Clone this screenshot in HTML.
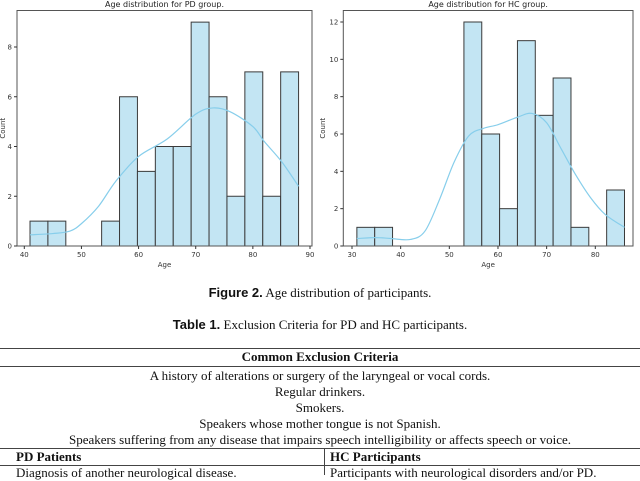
<!DOCTYPE html>
<html><head><meta charset="utf-8"><style>
body{margin:0;width:640px;height:475px;background:#fff;overflow:hidden;position:relative;font-family:"Liberation Serif",serif}
svg{position:absolute;left:0;top:0}
.cap{position:absolute;left:0;width:640px;text-align:center;font-size:13px;color:#111}
.cap b{font-family:"Liberation Sans",sans-serif}
.ln{position:absolute;left:0;width:640px;border-top:1px solid #444}
.row{position:absolute;left:0;width:640px;text-align:center;font-size:13px;color:#111;line-height:16px}
</style></head><body>
<svg id="chart" width="640" height="280"></svg>
<div class="cap" style="top:285px"><b>Figure 2.</b> Age distribution of participants.</div>
<div class="cap" style="top:317px"><b>Table 1.</b> Exclusion Criteria for PD and HC participants.</div>
<div class="ln" style="top:348px;border-top-width:1.5px"></div>
<div class="row" style="top:349px;font-weight:bold">Common Exclusion Criteria</div>
<div class="ln" style="top:366px"></div>
<div class="row" style="top:368px">A history of alterations or surgery of the laryngeal or vocal cords.</div>
<div class="row" style="top:384px">Regular drinkers.</div>
<div class="row" style="top:400px">Smokers.</div>
<div class="row" style="top:416px">Speakers whose mother tongue is not Spanish.</div>
<div class="row" style="top:432px">Speakers suffering from any disease that impairs speech intelligibility or affects speech or voice.</div>
<div class="ln" style="top:448px"></div>
<div class="row" style="top:449px;text-align:left;left:16px;font-weight:bold">PD Patients</div>
<div class="row" style="top:449px;text-align:left;left:330px;font-weight:bold">HC Participants</div>
<div class="ln" style="top:465px"></div>
<div style="position:absolute;left:324px;top:448px;height:27px;border-left:1px solid #444"></div>
<div class="row" style="top:465px;text-align:left;left:16px">Diagnosis of another neurological disease.</div>
<div class="row" style="top:465px;text-align:left;left:330px">Participants with neurological disorders and/or PD.</div>
<script>
const pdCounts=[1,1,0,0,1,6,3,4,4,9,6,2,7,2,7];
const pdBinStart=41, pdBinEnd=88;
const pdKdeX=[41,45,48,50,53,56,60,65,70,73,76,80,82,85,88];
const pdKdeY=[0.45,0.5,0.6,0.9,1.6,2.6,3.6,4.3,5.3,5.55,5.4,4.8,4.2,3.4,2.4];
const pdXTicks=[40,50,60,70,80,90];
const pdYTicks=[0,2,4,6,8];
const hcCounts=[1,1,0,0,0,0,12,6,2,11,7,9,1,0,3];
const hcBinStart=31, hcBinEnd=86;
const hcKdeX=[31,35,38,42,45,48,51,54,57,60,64,67,70,73,76,79,82,86];
const hcKdeY=[0.4,0.45,0.4,0.35,0.8,2.5,4.5,5.9,6.3,6.5,6.9,7.1,6.6,5.2,3.8,2.6,1.7,1.0];
const hcXTicks=[30,40,50,60,70,80];
const hcYTicks=[0,2,4,6,8,10,12];
const NS='http://www.w3.org/2000/svg';
const svg=document.getElementById('chart');
function el(t,a,txt){const e=document.createElementNS(NS,t);for(const k in a)e.setAttribute(k,a[k]);if(txt!=null)e.textContent=txt;svg.appendChild(e);return e;}
function panel(o){
  const x=v=>o.x0+(v-o.xv0)*(o.x1-o.x0)/(o.xv1-o.xv0);
  const y=v=>o.yb-(v-0)*(o.yb-o.yt)/(o.yv1);
  const n=o.counts.length,w=(o.be-o.bs)/n;
  o.counts.forEach((c,i)=>{
    if(!c)return;
    const r=el('rect',{x:x(o.bs+i*w),y:y(c),width:x(o.bs+(i+1)*w)-x(o.bs+i*w),height:y(0)-y(c),fill:'#c3e5f3',stroke:'#3a3a3a','stroke-width':1});
    
    
  });
  let d='';
  for(let i=0;i<o.kx.length;i++){
    const px=x(o.kx[i]),py=y(o.ky[i]);
    if(i==0)d+='M'+px+','+py;
    else{const p0=[x(o.kx[Math.max(i-2,0)]),y(o.ky[Math.max(i-2,0)])],p1=[x(o.kx[i-1]),y(o.ky[i-1])],p3=[x(o.kx[Math.min(i+1,o.kx.length-1)]),y(o.ky[Math.min(i+1,o.kx.length-1)])];
      d+=' C'+(p1[0]+(px-p0[0])/6)+','+(p1[1]+(py-p0[1])/6)+' '+(px-(p3[0]-p1[0])/6)+','+(py-(p3[1]-p1[1])/6)+' '+px+','+py;}
  }
  const k=el('path',{d:d,fill:'none',stroke:'#87ceeb','stroke-width':1.2});
  
  
  const f=el('rect',{x:o.px0,y:o.yt2,width:o.px1-o.px0,height:o.yb-o.yt2,fill:'none',stroke:'#555','stroke-width':1});
  
  
  o.xt.forEach(v=>{el('line',{x1:x(v),x2:x(v),y1:o.yb,y2:o.yb+3,stroke:'#333'});
    const t=el('text',{x:x(v),y:o.yb+11,'font-size':7,'text-anchor':'middle','font-family':'DejaVu Sans,sans-serif',fill:'#333'},v);
    
    });
  o.yticks.forEach(v=>{el('line',{x1:o.px0-3,x2:o.px0,y1:y(v),y2:y(v),stroke:'#333'});
    const t=el('text',{x:o.px0-5,y:y(v)+2.5,'font-size':7,'text-anchor':'end','font-family':'DejaVu Sans,sans-serif',fill:'#333'},v);
    
    });
  const xl=el('text',{x:(o.px0+o.px1)/2,y:o.yb+21,'font-size':7,'text-anchor':'middle','font-family':'DejaVu Sans,sans-serif',fill:'#333'},'Age');
  
  
  const yl=el('text',{x:0,y:0,'font-size':7,'text-anchor':'middle','font-family':'DejaVu Sans,sans-serif',fill:'#333',transform:'translate('+o.ylx+','+((o.yb+o.yt2)/2)+') rotate(-90)'},'Count');
  
  
  const tt=el('text',{x:(o.px0+o.px1)/2,y:7,'font-size':8,'text-anchor':'middle','font-family':'DejaVu Sans,sans-serif',fill:'#222'},o.title);
  
  
}
panel({id:'pd',counts:pdCounts,bs:pdBinStart,be:pdBinEnd,kx:pdKdeX,ky:pdKdeY,xt:pdXTicks,yticks:pdYTicks,
  x0:24.3,x1:310,xv0:40,xv1:90,yb:246,yt:47,yv1:8,px0:17,px1:312,yt2:10.5,ylx:5,title:'Age distribution for PD group.'});
panel({id:'hc',counts:hcCounts,bs:hcBinStart,be:hcBinEnd,kx:hcKdeX,ky:hcKdeY,xt:hcXTicks,yticks:hcYTicks,
  x0:352,x1:595.3,xv0:30,xv1:80,yb:246,yt:22,yv1:12,px0:343.3,px1:633,yt2:10.5,ylx:325,title:'Age distribution for HC group.'});
</script>
</body></html>
